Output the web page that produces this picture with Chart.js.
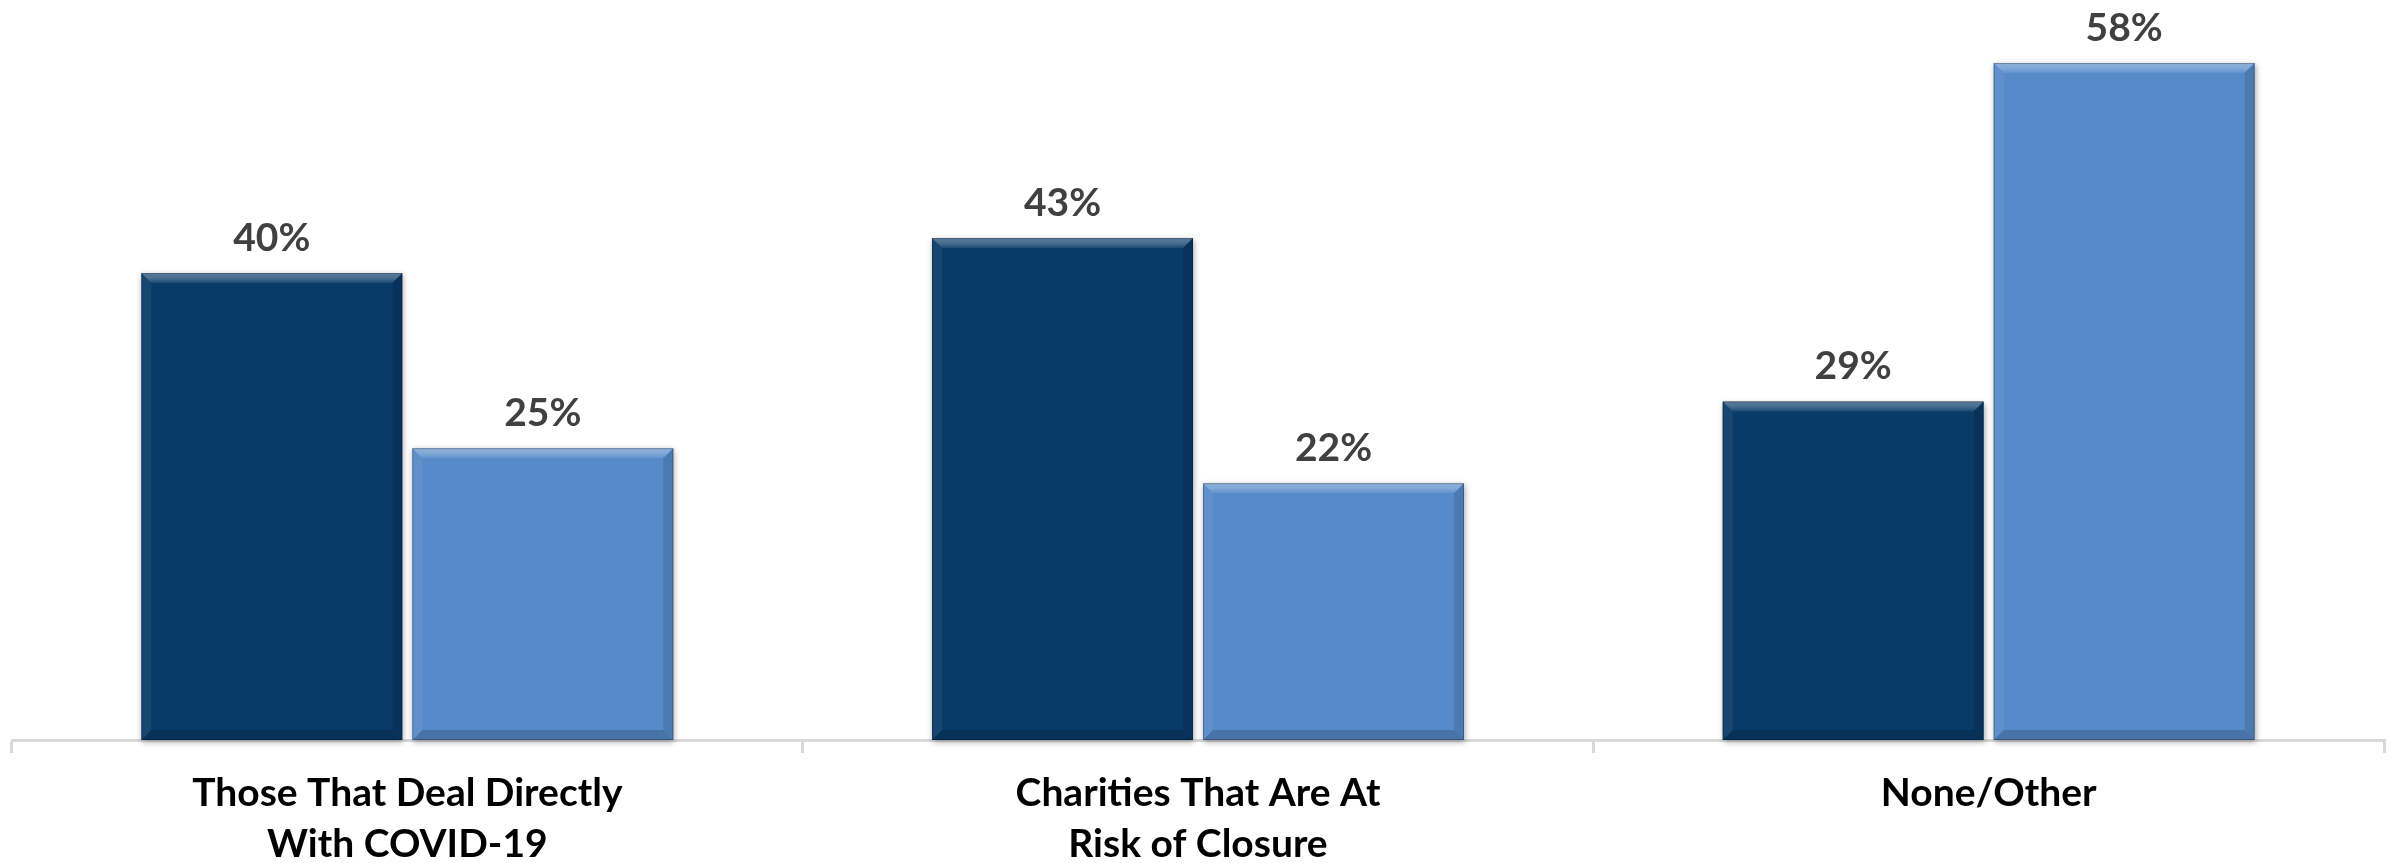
<!DOCTYPE html>
<html>
<head>
<meta charset="utf-8">
<script src="https://cdn.jsdelivr.net/npm/chart.js@4/dist/chart.umd.min.js"></script>
<style>
  html, body { margin: 0; padding: 0; background: #ffffff; }
  #wrap { width: 2394px; height: 863px; }
</style>
</head>
<body>
<div id="wrap"><canvas id="chart" width="2394" height="863"></canvas></div>
<script>
// Categories (multi-line labels) and the two series, in percent
const categories = [
  ['Those That Deal Directly', 'With COVID-19'],
  ['Charities That Are At', 'Risk of Closure'],
  ['None/Other']
];
const seriesDark = [40, 43, 29];
const seriesLight = [25, 22, 58];
const seriesNames = ['Group A', 'Group B'];

const FONT = "Lato, 'Open Sans', 'Liberation Sans', sans-serif";

// Soft shadow behind every bar
const barShadow = {
  id: 'barShadow',
  beforeDatasetsDraw(chart) {
    const ctx = chart.ctx;
    ctx.save();
    chart.data.datasets.forEach((ds, i) => {
      chart.getDatasetMeta(i).data.forEach(bar => {
        const p = bar.getProps(['x', 'y', 'base', 'width'], true);
        ctx.shadowColor = 'rgba(0,0,0,0.35)';
        ctx.shadowBlur = 6;
        ctx.shadowOffsetX = 1;
        ctx.shadowOffsetY = 2;
        ctx.fillStyle = '#bbbbbb';
        ctx.fillRect(p.x - p.width / 2, p.y, p.width, p.base - p.y);
      });
    });
    ctx.restore();
  }
};

// Bevelled edges drawn on top of every bar
const barBevel = {
  id: 'barBevel',
  afterDatasetsDraw(chart) {
    const ctx = chart.ctx;
    const b = 10;
    ctx.save();
    chart.data.datasets.forEach((ds, i) => {
      chart.getDatasetMeta(i).data.forEach(bar => {
        const p = bar.getProps(['x', 'y', 'base', 'width'], true);
        const l = p.x - p.width / 2, r = p.x + p.width / 2, t = p.y, bt = p.base;
        // top highlight
        const g = ctx.createLinearGradient(0, t, 0, t + b);
        g.addColorStop(0, 'rgba(255,255,255,0.34)');
        g.addColorStop(0.5, 'rgba(255,255,255,0.26)');
        g.addColorStop(1, 'rgba(255,255,255,0.08)');
        ctx.fillStyle = g;
        ctx.beginPath();
        ctx.moveTo(l, t); ctx.lineTo(r, t); ctx.lineTo(r - b, t + b); ctx.lineTo(l + b, t + b);
        ctx.closePath(); ctx.fill();
        // left edge
        ctx.fillStyle = 'rgba(255,255,255,0.06)';
        ctx.beginPath();
        ctx.moveTo(l, t); ctx.lineTo(l + b, t + b); ctx.lineTo(l + b, bt - b); ctx.lineTo(l, bt);
        ctx.closePath(); ctx.fill();
        // right edge
        ctx.fillStyle = 'rgba(0,0,0,0.12)';
        ctx.beginPath();
        ctx.moveTo(r, t); ctx.lineTo(r - b, t + b); ctx.lineTo(r - b, bt - b); ctx.lineTo(r, bt);
        ctx.closePath(); ctx.fill();
        // bottom edge
        ctx.fillStyle = 'rgba(0,0,0,0.16)';
        ctx.beginPath();
        ctx.moveTo(l, bt); ctx.lineTo(l + b, bt - b); ctx.lineTo(r - b, bt - b); ctx.lineTo(r, bt);
        ctx.closePath(); ctx.fill();
        // thin outline
        ctx.strokeStyle = 'rgba(0,0,0,0.25)';
        ctx.lineWidth = 1;
        ctx.strokeRect(l + 0.5, t + 0.5, p.width - 1, bt - t - 1);
      });
    });
    ctx.restore();
  }
};

// Percentage labels above each bar
const valueLabels = {
  id: 'valueLabels',
  afterDatasetsDraw(chart) {
    const ctx = chart.ctx;
    ctx.save();
    ctx.font = `bold 39px ${FONT}`;
    ctx.fillStyle = '#404040';
    ctx.textAlign = 'center';
    ctx.textBaseline = 'middle';
    chart.data.datasets.forEach((ds, i) => {
      chart.getDatasetMeta(i).data.forEach((bar, j) => {
        ctx.fillText(ds.data[j] + '%', bar.x, bar.y - 35);
      });
    });
    ctx.restore();
  }
};

new Chart(document.getElementById('chart'), {
  type: 'bar',
  data: {
    labels: categories,
    datasets: [
      { label: seriesNames[0], data: seriesDark, backgroundColor: '#093b68', borderWidth: 0 },
      { label: seriesNames[1], data: seriesLight, backgroundColor: '#568ac9', borderWidth: 0 }
    ]
  },
  options: {
    responsive: false,
    animation: false,
    devicePixelRatio: 1,
    layout: { padding: { left: 12, right: 10, top: 0, bottom: 0 } },
    datasets: { bar: { categoryPercentage: 0.6855, barPercentage: 0.963 } },
    plugins: { legend: { display: false }, tooltip: { enabled: false } },
    scales: {
      x: {
        afterFit(scale) { scale.height = 123; },
        border: { display: true, color: '#d9d9d9', width: 3 },
        grid: { display: true, drawOnChartArea: false, drawTicks: true, tickLength: 13, color: '#d9d9d9', lineWidth: 3, offset: true },
        ticks: {
          color: '#000000',
          padding: 15,
          maxRotation: 0,
          autoSkip: false,
          font: { family: FONT, weight: 'bold', size: 39, lineHeight: 1.3 }
        }
      },
      y: { display: false, min: 0, max: 63.4 }
    }
  },
  plugins: [barShadow, barBevel, valueLabels]
});
</script>
</body>
</html>
